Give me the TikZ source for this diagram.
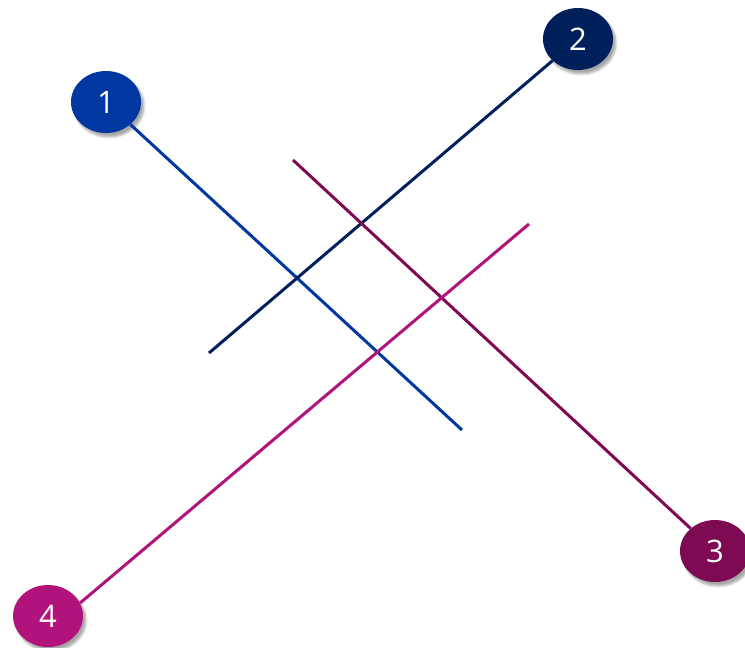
\documentclass[tikz,border=0pt]{standalone}
\usepackage{fontspec}
\setmainfont{Open Sans}
\usetikzlibrary{shapes.geometric,shadows.blur}
\definecolor{cA}{HTML}{0037A0}
\definecolor{cB}{HTML}{00205B}
\definecolor{cC}{HTML}{7D0A52}
\definecolor{cD}{HTML}{B0137C}
\tikzset{
  badge/.style={ellipse, inner sep=0pt, minimum width=70pt, minimum height=62pt,
    text=white, font=\fontsize{31}{31}\selectfont,
    blur shadow={shadow xshift=3pt, shadow yshift=-4pt, shadow opacity=35, shadow blur steps=8}},
  leader/.style={line width=3pt}
}
\begin{document}
\begin{tikzpicture}[x=1pt,y=-1pt]
\useasboundingbox (0,0) rectangle (745,648);
\node[badge, fill=cA] (n1) at (106,102) {1};
\node[badge, fill=cB] (n2) at (578,39) {2};
\node[badge, fill=cC] (n3) at (715,551) {3};
\node[badge, fill=cD] (n4) at (48,616) {4};
\coordinate (e1) at (462,430);
\coordinate (e2) at (209,353);
\coordinate (e3) at (293,160);
\coordinate (e4) at (529,224);
\draw[leader, cA] (n1) -- (e1);
\draw[leader, cB] (n2) -- (e2);
\draw[leader, cC] (e3) -- (n3);
\draw[leader, cD] (e4) -- (n4.22);
\end{tikzpicture}
\end{document}
